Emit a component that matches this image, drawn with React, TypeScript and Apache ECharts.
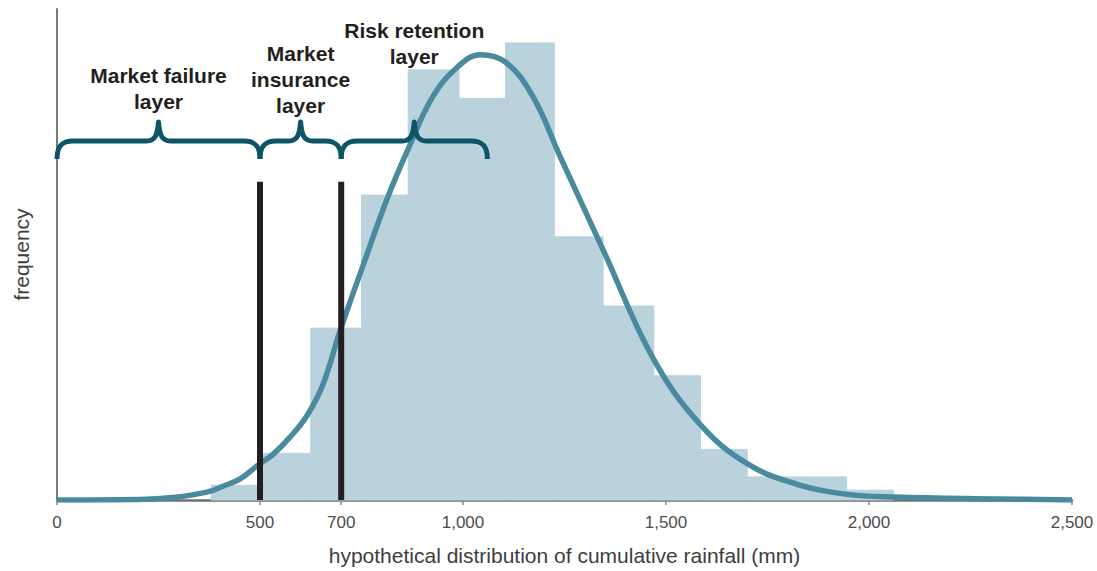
import React, { useEffect, useRef } from "react";
import * as echarts from "echarts";

// ---- data ----
const xTicks = [0, 500, 700, 1000, 1500, 2000, 2500];
const binEdges = [380, 500, 625, 750, 865, 990, 1105, 1225, 1345, 1470, 1585, 1700, 1945, 2060];
const binHeights = [3.0, 9.5, 35.0, 62.1, 87.6, 81.8, 93.1, 53.6, 39.5, 25.3, 10.3, 4.7, 2.0];
const curveX = [0, 204, 286, 369, 409, 451, 495, 532, 574, 616, 655, 697, 754, 813, 865, 926, 988, 1042, 1106, 1172, 1239, 1347, 1468, 1584, 1702, 1823, 1943, 2062, 2323, 2500];
const curveY = [0, 0.1, 0.5, 1.6, 2.8, 4.3, 7.1, 9.3, 12.8, 17.2, 23.5, 34.4, 47.8, 61.3, 71.5, 82.2, 88.3, 90.7, 89.1, 82.2, 70.0, 50.6, 28.9, 15.4, 7.3, 3.2, 1.2, 0.6, 0.2, 0];
const thresholds = [500, 700];
const thresholdTop = 64.8;
const braceStarts = [0, 500, 700];
const braceEnds = [500, 700, 1060];
const braceLabels = ["Market failure\nlayer", "Market\ninsurance\nlayer", "Risk retention\nlayer"];
const xAxisTitle = "hypothetical distribution of cumulative rainfall (mm)";
const yAxisTitle = "frequency";

// ---- layout ----
const FONT = '"Liberation Sans", Arial, sans-serif';
const BRACE_Y = 141;
const BRACE_TEXT_Y = [88, 79, 43];

function fmt(v: number): string {
  return String(v).replace(/\B(?=(\d{3})+(?!\d))/g, ",");
}

export default function App() {
  const ref = useRef<HTMLDivElement>(null);
  useEffect(() => {
    if (!ref.current) return;
    const chart = echarts.init(ref.current, null, { renderer: "svg" });
    const option: any = {
      animation: false,
      grid: { left: 57, right: 25, top: 9, bottom: 68 },
      xAxis: {
        type: "value",
        min: 0,
        max: 2500,
        name: xAxisTitle,
        nameLocation: "middle",
        nameGap: 45,
        nameTextStyle: { fontSize: 21, color: "#3d3d3d", fontFamily: FONT },
        axisLine: { show: true, lineStyle: { color: "#6f6f6f", width: 2.5 } },
        axisTick: { show: true, customValues: xTicks, length: 5, lineStyle: { color: "#8a8a8a", width: 1.5 } },
        axisLabel: {
          customValues: xTicks,
          formatter: (v: number) => fmt(v),
          fontSize: 17,
          color: "#4d4d4d",
          margin: 14,
          fontFamily: FONT,
        },
        splitLine: { show: false },
      },
      yAxis: {
        type: "value",
        min: 0,
        max: 100,
        name: yAxisTitle,
        nameLocation: "middle",
        nameGap: 25,
        nameTextStyle: { fontSize: 21, color: "#3d3d3d", fontFamily: FONT },
        axisLine: { show: true, lineStyle: { color: "#7a7a7a", width: 2 } },
        axisTick: { show: false },
        axisLabel: { show: false },
        splitLine: { show: false },
      },
      series: [
        {
          type: "custom",
          z: 1,
          silent: true,
          data: binHeights.map((h, i) => [binEdges[i], binEdges[i + 1], h]),
          encode: { x: [0, 1], y: 2 },
          renderItem: (params: any, api: any) => {
            const p0 = api.coord([api.value(0), api.value(2)]);
            const p1 = api.coord([api.value(1), 0]);
            return {
              type: "rect",
              shape: { x: p0[0], y: p0[1], width: p1[0] - p0[0], height: p1[1] - p0[1] },
              style: { fill: "#b9d2dc", stroke: "#b9d2dc", lineWidth: 1 },
            };
          },
        },
        {
          type: "line",
          z: 3,
          silent: true,
          smooth: 0.4,
          symbol: "none",
          data: curveX.map((x, i) => [x, curveY[i]]),
          lineStyle: { color: "#4a8a9e", width: 5.5 },
        },
        {
          type: "custom",
          z: 4,
          silent: true,
          data: thresholds.map((t) => [t, thresholdTop]),
          encode: { x: 0, y: 1 },
          renderItem: (params: any, api: any) => {
            const a = api.coord([api.value(0), 0]);
            const b = api.coord([api.value(0), api.value(1)]);
            return {
              type: "line",
              shape: { x1: a[0], y1: a[1], x2: b[0], y2: b[1] },
              style: { stroke: "#231f20", lineWidth: 6 },
            };
          },
        },
        {
          type: "custom",
          z: 5,
          silent: true,
          clip: false,
          data: braceStarts.map((s, i) => [s, braceEnds[i]]),
          encode: { x: [0, 1] },
          renderItem: (params: any, api: any) => {
            const i = params.dataIndex;
            const x0 = api.coord([api.value(0), 0])[0];
            const x1 = api.coord([api.value(1), 0])[0];
            const m = (x0 + x1) / 2;
            const y = BRACE_Y;
            const d =
              `M${x0},${y + 18} C${x0},${y + 5} ${x0 + 5},${y} ${x0 + 16},${y} ` +
              `L${m - 12},${y} C${m - 4},${y} ${m - 1},${y - 5} ${m},${y - 19} ` +
              `C${m + 1},${y - 5} ${m + 4},${y} ${m + 12},${y} ` +
              `L${x1 - 16},${y} C${x1 - 5},${y} ${x1},${y + 5} ${x1},${y + 18}`;
            return {
              type: "group",
              children: [
                {
                  type: "path",
                  shape: { pathData: d },
                  style: { stroke: "#0d5467", lineWidth: 5, fill: "none", lineJoin: "round" },
                },
                {
                  type: "text",
                  style: {
                    text: braceLabels[i],
                    x: m,
                    y: BRACE_TEXT_Y[i],
                    align: "center",
                    verticalAlign: "middle",
                    font: `bold 21px ${FONT}`,
                    lineHeight: 26,
                    fill: "#231f20",
                  },
                },
              ],
            };
          },
        },
      ],
    };
    chart.setOption(option);
    return () => chart.dispose();
  }, []);
  return (
    <div
      ref={ref}
      style={{ position: "fixed", left: 0, top: 0, width: 1097, height: 571, background: "#fff" }}
    />
  );
}
